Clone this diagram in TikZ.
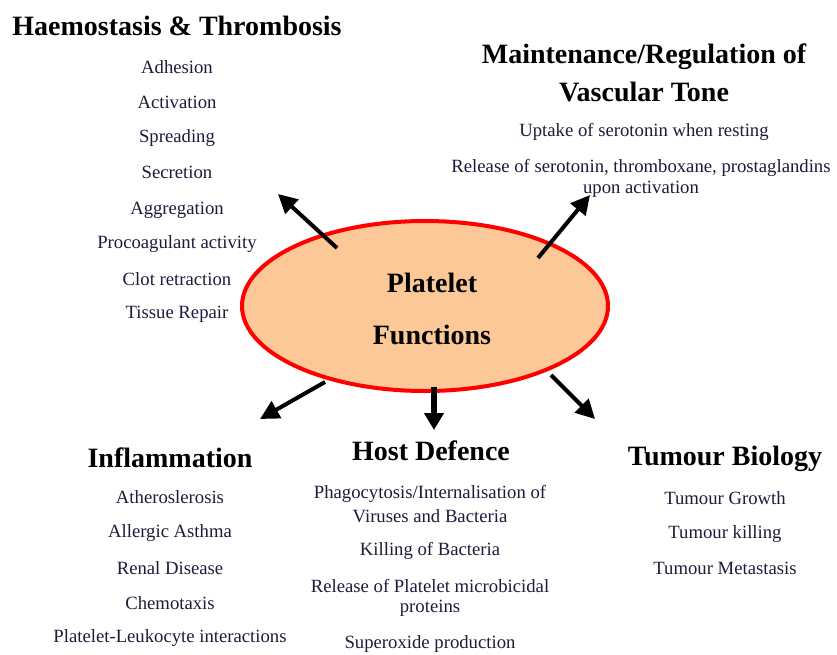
\documentclass[tikz,border=0pt]{standalone}
\usepackage{fontspec}
\setmainfont{Liberation Serif}
\usetikzlibrary{arrows.meta,shapes.geometric}
\definecolor{peach}{HTML}{FDC898}
\definecolor{txt}{HTML}{1C1C3A}
\begin{document}
\begin{tikzpicture}[x=1pt,y=-1pt,
  title/.style={font=\fontsize{28}{30}\selectfont\bfseries, text=black, align=center, inner sep=0pt},
  item/.style={font=\fontsize{18.7}{22}\selectfont, text=txt, align=center, inner sep=0pt},
  fn/.style={-{Triangle[length=19pt,width=19pt]}, line width=4pt, black}]
\useasboundingbox (0,0) rectangle (837,654);
\node[draw=red, line width=4pt, fill=peach, ellipse, minimum width=366pt, minimum height=170pt, inner sep=0pt] (c) at (425,306) {};
\node[font=\fontsize{28}{30}\selectfont\bfseries] (p1) at (432,283) {Platelet};
\node[font=\fontsize{28}{30}\selectfont\bfseries] (p2) at (432,335) {Functions};
% Haemostasis
\node[title] (h) at (177,26) {Haemostasis \& Thrombosis};
\node[item] (h1) at (177,67) {Adhesion};
\node[item] (h2) at (177,102) {Activation};
\node[item] (h3) at (177,138) {Spreading};
\node[item] (h4) at (177,172) {Secretion};
\node[item] (h5) at (177,210) {Aggregation};
\node[item] (h6) at (177,244) {Procoagulant activity};
\node[item] (h7) at (177,279) {Clot retraction};
\node[item] (h8) at (177,314) {Tissue Repair};
% Maintenance
\node[title] (m) at (644,57) {Maintenance/Regulation of};
\node[title] (m0) at (644,92) {Vascular Tone};
\node[item] (m1) at (644,132) {Uptake of serotonin when resting};
\node[item] (m2) at (641,168) {Release of serotonin, thromboxane, prostaglandins};
\node[item] (m3) at (641,189) {upon activation};
% Inflammation
\node[title] (i) at (170,458) {Inflammation};
\node[item] (i1) at (170,497) {Atheroslerosis};
\node[item] (i2) at (170,533) {Allergic Asthma};
\node[item] (i3) at (170,568) {Renal Disease};
\node[item] (i4) at (170,603) {Chemotaxis};
\node[item] (i5) at (170,638) {Platelet-Leukocyte interactions};
% Host defence
\node[title] (d) at (431,451) {Host Defence};
\node[item] (d1) at (430,494) {Phagocytosis/Internalisation of};
\node[item] (d2) at (430,516) {Viruses and Bacteria};
\node[item] (d3) at (430,551) {Killing of Bacteria};
\node[item] (d4) at (430,586) {Release of Platelet microbicidal};
\node[item] (d5) at (430,608) {proteins};
\node[item] (d6) at (430,644) {Superoxide production};
% Tumour
\node[title] (t) at (725,459) {Tumour Biology};
\node[item] (t1) at (725,498) {Tumour Growth};
\node[item] (t2) at (725,534) {Tumour killing};
\node[item] (t3) at (725,568) {Tumour Metastasis};
% arrows
\coordinate (a1s) at (337,248); \coordinate (a1e) at (278,194);
\coordinate (a2s) at (538,258); \coordinate (a2e) at (590,195);
\coordinate (a3s) at (325,382); \coordinate (a3e) at (260,419);
\coordinate (a4s) at (434,387); \coordinate (a4e) at (434,430);
\coordinate (a5s) at (551,375); \coordinate (a5e) at (595,419);
\draw[fn] (a1s) -- (a1e);
\draw[fn] (a2s) -- (a2e);
\draw[fn] (a3s) -- (a3e);
\draw[fn, line width=6pt, -{Triangle[length=17pt,width=19pt]}] (a4s) -- (a4e);
\draw[fn] (a5s) -- (a5e);
\end{tikzpicture}
\end{document}
